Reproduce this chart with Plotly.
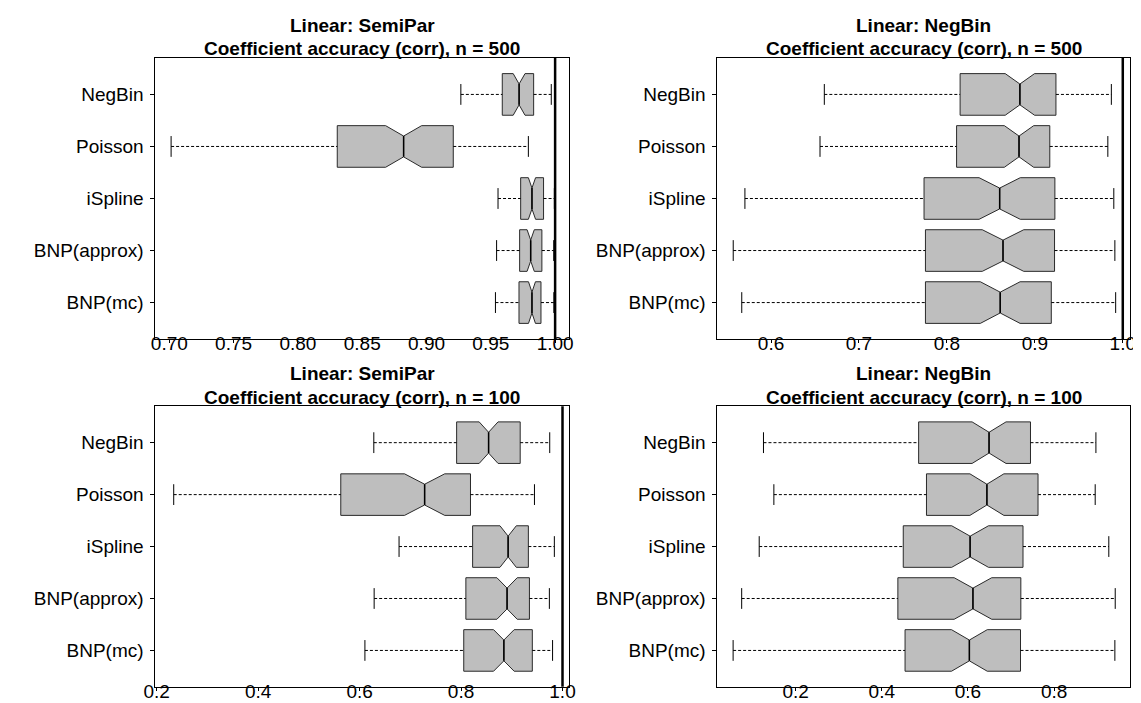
import plotly.graph_objects as go

# ---------------- data ----------------
categories = ["NegBin", "Poisson", "iSpline", "BNP(approx)", "BNP(mc)"]
positions = [5, 4, 3, 2, 1]

titles_line1 = ["Linear: SemiPar", "Linear: NegBin", "Linear: SemiPar", "Linear: NegBin"]
titles_line2 = ["Coefficient accuracy (corr), n = 500", "Coefficient accuracy (corr), n = 500",
                "Coefficient accuracy (corr), n = 100", "Coefficient accuracy (corr), n = 100"]

# Panel 1: SemiPar, n = 500
p1_lo = [0.9267, 0.7014, 0.9556, 0.9545, 0.9536]
p1_q1 = [0.9589, 0.8306, 0.9732, 0.9724, 0.9719]
p1_med = [0.9720, 0.8822, 0.9820, 0.9810, 0.9820]
p1_q3 = [0.9833, 0.9208, 0.9910, 0.9897, 0.9890]
p1_hi = [0.9970, 0.9792, 0.9994, 0.9989, 0.9990]
p1_notch = [0.0046, 0.0140, 0.0028, 0.0028, 0.0027]

# Panel 2: NegBin, n = 500
p2_lo = [0.6606, 0.6557, 0.5703, 0.5570, 0.5667]
p2_q1 = [0.8150, 0.8110, 0.7740, 0.7756, 0.7756]
p2_med = [0.8830, 0.8820, 0.8600, 0.8638, 0.8606]
p2_q3 = [0.9240, 0.9170, 0.9228, 0.9224, 0.9187]
p2_hi = [0.9870, 0.9830, 0.9898, 0.9910, 0.9919]
p2_notch = [0.0167, 0.0167, 0.0234, 0.0236, 0.0226]

# Panel 3: SemiPar, n = 100
p3_lo = [0.6280, 0.2336, 0.6778, 0.6287, 0.6105]
p3_q1 = [0.7913, 0.5629, 0.8228, 0.8095, 0.8053]
p3_med = [0.8543, 0.7282, 0.8928, 0.8907, 0.8844]
p3_q3 = [0.9166, 0.8186, 0.9327, 0.9348, 0.9405]
p3_hi = [0.9748, 0.9447, 0.9839, 0.9741, 0.9804]
p3_notch = [0.0186, 0.0396, 0.0161, 0.0200, 0.0203]

# Panel 4: NegBin, n = 100
p4_lo = [0.1253, 0.1494, 0.1154, 0.0747, 0.0548]
p4_q1 = [0.4855, 0.5037, 0.4498, 0.4373, 0.4540]
p4_med = [0.6490, 0.6440, 0.6050, 0.6116, 0.6033]
p4_q3 = [0.7452, 0.7627, 0.7278, 0.7228, 0.7220]
p4_hi = [0.8971, 0.8954, 0.9270, 0.9419, 0.9411]
p4_notch = [0.0394, 0.0394, 0.0427, 0.0436, 0.0415]

x_ranges = [[0.6892, 1.0111], [0.5390, 1.0081], [0.1975, 1.0128], [0.0183, 0.9760]]
x_tickvals = [[0.70, 0.75, 0.80, 0.85, 0.90, 0.95, 1.00],
              [0.6, 0.7, 0.8, 0.9, 1.0],
              [0.2, 0.4, 0.6, 0.8, 1.0],
              [0.2, 0.4, 0.6, 0.8]]
x_ticktext = [["0.70", "0.75", "0.80", "0.85", "0.90", "0.95", "1.00"],
              ["0.6", "0.7", "0.8", "0.9", "1.0"],
              ["0.2", "0.4", "0.6", "0.8", "1.0"],
              ["0.2", "0.4", "0.6", "0.8"]]
ref_value = 1.0

panels = [
    (p1_lo, p1_q1, p1_med, p1_q3, p1_hi, p1_notch),
    (p2_lo, p2_q1, p2_med, p2_q3, p2_hi, p2_notch),
    (p3_lo, p3_q1, p3_med, p3_q3, p3_hi, p3_notch),
    (p4_lo, p4_q1, p4_med, p4_q3, p4_hi, p4_notch),
]

# ---------------- layout ----------------
W, H = 1141, 703
FONT = "Liberation Sans, Arial, Helvetica, sans-serif"
frames_px = [  # left, right, top, bottom in pixels
    (137.7, 558.7, 50.0, 331.0),
    (709.2, 1128.7, 50.0, 331.0),
    (137.7, 558.3, 398.3, 678.8),
    (709.2, 1128.7, 398.3, 678.8),
]
title_y_px = [(17.0, 40.8), (17.0, 40.8), (366.0, 389.3), (366.0, 389.3)]

BOX_W = 0.8
STAPLE_HALF = 0.2
MED_HALF = 0.2

fig = go.Figure()
layout = dict(width=W, height=H, autosize=False, margin=dict(l=0, r=0, t=0, b=0),
              paper_bgcolor="white", plot_bgcolor="white", showlegend=False,
              font=dict(family=FONT, size=19, color="black"))
annotations = []
shapes = []

for i, (lo, q1, med, q3, hi, notch) in enumerate(panels):
    k = "" if i == 0 else str(i + 1)
    xa, ya = "x" + k, "y" + k
    L, R, T, B = frames_px[i]

    fig.add_trace(go.Box(
        y=positions, q1=q1, median=med, q3=q3, lowerfence=q1, upperfence=q3,
        notchspan=notch, notched=True, notchwidth=0.25, width=BOX_W,
        orientation="h", whiskerwidth=0, boxpoints=False,
        fillcolor="#BEBEBE", line=dict(color="#2a2a2a", width=1),
        xaxis=xa, yaxis=ya, hoverinfo="skip"))

    # dashed whiskers
    wx, wy = [], []
    for j, p in enumerate(positions):
        wx += [lo[j], q1[j], None, q3[j], hi[j], None]
        wy += [p, p, None, p, p, None]
    fig.add_trace(go.Scatter(x=wx, y=wy, mode="lines", xaxis=xa, yaxis=ya,
                             line=dict(color="black", width=1, dash="3px,2px"),
                             hoverinfo="skip"))
    # staples
    sx, sy = [], []
    for j, p in enumerate(positions):
        sx += [lo[j], lo[j], None, hi[j], hi[j], None]
        sy += [p - STAPLE_HALF, p + STAPLE_HALF, None, p - STAPLE_HALF, p + STAPLE_HALF, None]
    fig.add_trace(go.Scatter(x=sx, y=sy, mode="lines", xaxis=xa, yaxis=ya,
                             line=dict(color="black", width=1), hoverinfo="skip"))
    # thick medians
    mx, my = [], []
    for j, p in enumerate(positions):
        mx += [med[j], med[j], None]
        my += [p - MED_HALF, p + MED_HALF, None]
    fig.add_trace(go.Scatter(x=mx, y=my, mode="lines", xaxis=xa, yaxis=ya,
                             line=dict(color="black", width=1.5), hoverinfo="skip"))

    axis_common = dict(showline=True, mirror=True, linecolor="black", linewidth=1,
                       showgrid=False, zeroline=False, ticks="outside",
                       tickcolor="black", tickwidth=1,
                       tickfont=dict(family=FONT, size=19, color="black"))
    layout["xaxis" + k] = dict(axis_common, domain=[L / W, R / W], anchor=ya,
                               range=x_ranges[i], tickmode="array",
                               tickvals=x_tickvals[i], ticktext=x_ticktext[i],
                               ticklen=3, ticklabelstandoff=-16)
    layout["yaxis" + k] = dict(axis_common, domain=[1 - B / H, 1 - T / H], anchor=xa,
                               range=[0.3, 5.7], tickmode="array",
                               tickvals=positions, ticktext=categories,
                               ticklen=4, ticklabelstandoff=3)

    if x_ranges[i][0] <= ref_value <= x_ranges[i][1]:
        shapes.append(dict(type="line", xref=xa, yref=ya + " domain", x0=ref_value, x1=ref_value,
                           y0=0, y1=1, line=dict(color="black", width=2.5)))

    cx = (L + R) / 2 / W
    for txt, ty in zip([titles_line1[i], titles_line2[i]], title_y_px[i]):
        annotations.append(dict(text="<b>" + txt + "</b>", xref="paper", yref="paper",
                                x=cx, y=1 - ty / H, xanchor="center", yanchor="middle",
                                showarrow=False, font=dict(family=FONT, size=19, color="black")))

layout["annotations"] = annotations
layout["shapes"] = shapes
fig.update_layout(**layout)
fig.write_html("out.html")
